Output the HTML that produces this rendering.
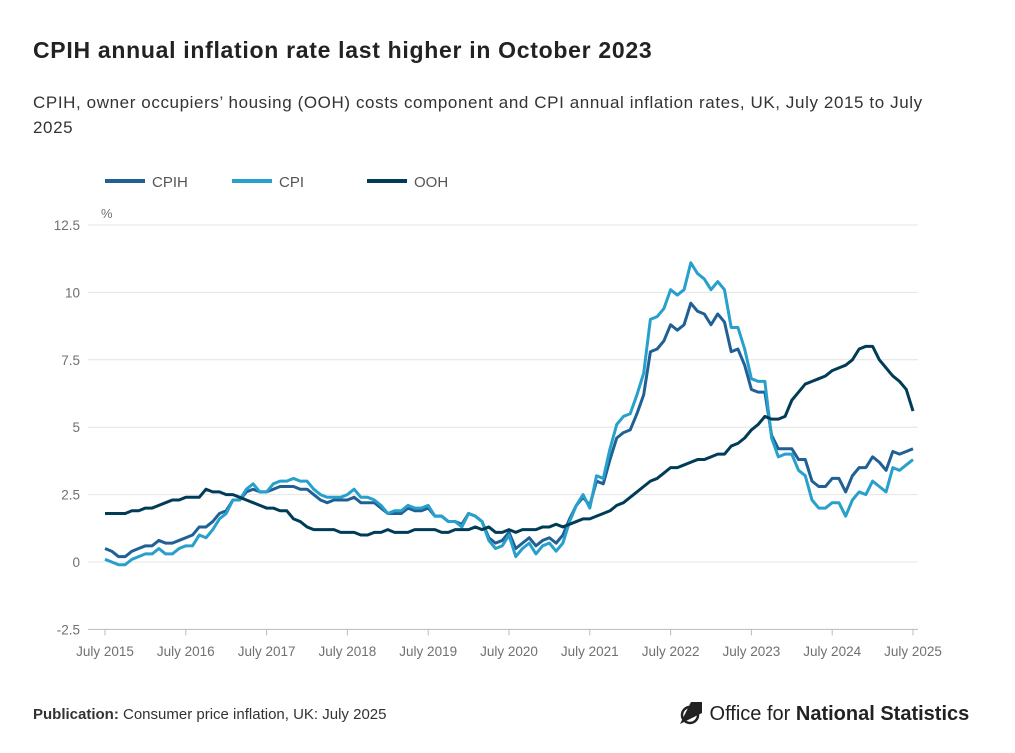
<!DOCTYPE html>
<html><head><meta charset="utf-8"><style>
body{margin:0;background:#fff;font-family:"Liberation Sans",sans-serif;color:#222;}
#wrap{position:relative;width:1015px;height:753px;overflow:hidden;}
h1{position:absolute;left:33px;top:37px;margin:0;font-size:23px;letter-spacing:0.7px;font-weight:bold;color:#222;}
.sub{position:absolute;left:33px;top:90px;width:935px;font-size:17px;letter-spacing:0.6px;line-height:25px;color:#333;}
.foot{position:absolute;left:33px;top:706px;font-size:15px;color:#333;}
.logo{position:absolute;left:678px;top:700px;font-size:20px;color:#222;}
</style></head><body>
<div id="wrap">
<h1>CPIH annual inflation rate last higher in October 2023</h1>
<div class="sub">CPIH, owner occupiers’ housing (OOH) costs component and CPI annual inflation rates, UK, July 2015 to July 2025</div>
<svg id="chart" width="1015" height="753" style="position:absolute;left:0;top:0"></svg>
<div class="foot"><b>Publication:</b> Consumer price inflation, UK: July 2025</div>
<div class="logo"><svg width="26" height="26" viewBox="0 0 26 26" style="vertical-align:-6px"><path d="M2 24 L13 2 L24 2 L24 13 Z" fill="#222"/><circle cx="12" cy="15" r="8" fill="none" stroke="#222" stroke-width="2.5"/></svg> Office for <b>National Statistics</b></div>
</div>
<script>
const cpih=[0.5,0.4,0.2,0.2,0.4,0.5,0.6,0.6,0.8,0.7,0.7,0.8,0.9,1.0,1.3,1.3,1.5,1.8,1.9,2.3,2.3,2.6,2.7,2.6,2.6,2.7,2.8,2.8,2.8,2.7,2.7,2.5,2.3,2.2,2.3,2.3,2.3,2.4,2.2,2.2,2.2,2.0,1.8,1.8,1.8,2.0,1.9,1.9,2.0,1.7,1.7,1.5,1.5,1.4,1.8,1.7,1.5,0.9,0.7,0.8,1.1,0.5,0.7,0.9,0.6,0.8,0.9,0.7,1.0,1.6,2.1,2.4,2.1,3.0,2.9,3.8,4.6,4.8,4.9,5.5,6.2,7.8,7.9,8.2,8.8,8.6,8.8,9.6,9.3,9.2,8.8,9.2,8.9,7.8,7.9,7.3,6.4,6.3,6.3,4.7,4.2,4.2,4.2,3.8,3.8,3.0,2.8,2.8,3.1,3.1,2.6,3.2,3.5,3.5,3.9,3.7,3.4,4.1,4.0,4.1,4.2];
const cpi=[0.1,0.0,-0.1,-0.1,0.1,0.2,0.3,0.3,0.5,0.3,0.3,0.5,0.6,0.6,1.0,0.9,1.2,1.6,1.8,2.3,2.3,2.7,2.9,2.6,2.6,2.9,3.0,3.0,3.1,3.0,3.0,2.7,2.5,2.4,2.4,2.4,2.5,2.7,2.4,2.4,2.3,2.1,1.8,1.9,1.9,2.1,2.0,2.0,2.1,1.7,1.7,1.5,1.5,1.3,1.8,1.7,1.5,0.8,0.5,0.6,1.0,0.2,0.5,0.7,0.3,0.6,0.7,0.4,0.7,1.5,2.1,2.5,2.0,3.2,3.1,4.2,5.1,5.4,5.5,6.2,7.0,9.0,9.1,9.4,10.1,9.9,10.1,11.1,10.7,10.5,10.1,10.4,10.1,8.7,8.7,7.9,6.8,6.7,6.7,4.6,3.9,4.0,4.0,3.4,3.2,2.3,2.0,2.0,2.2,2.2,1.7,2.3,2.6,2.5,3.0,2.8,2.6,3.5,3.4,3.6,3.8];
const ooh=[1.8,1.8,1.8,1.8,1.9,1.9,2.0,2.0,2.1,2.2,2.3,2.3,2.4,2.4,2.4,2.7,2.6,2.6,2.5,2.5,2.4,2.3,2.2,2.1,2.0,2.0,1.9,1.9,1.6,1.5,1.3,1.2,1.2,1.2,1.2,1.1,1.1,1.1,1.0,1.0,1.1,1.1,1.2,1.1,1.1,1.1,1.2,1.2,1.2,1.2,1.1,1.1,1.2,1.2,1.2,1.3,1.2,1.3,1.1,1.1,1.2,1.1,1.2,1.2,1.2,1.3,1.3,1.4,1.3,1.4,1.5,1.6,1.6,1.7,1.8,1.9,2.1,2.2,2.4,2.6,2.8,3.0,3.1,3.3,3.5,3.5,3.6,3.7,3.8,3.8,3.9,4.0,4.0,4.3,4.4,4.6,4.9,5.1,5.4,5.3,5.3,5.4,6.0,6.3,6.6,6.7,6.8,6.9,7.1,7.2,7.3,7.5,7.9,8.0,8.0,7.5,7.2,6.9,6.7,6.4,5.6];
const yTicks=[-2.5,0,2.5,5,7.5,10,12.5];
const yTickLabels=["-2.5","0","2.5","5","7.5","10","12.5"];
const xTickLabels=["July 2015","July 2016","July 2017","July 2018","July 2019","July 2020","July 2021","July 2022","July 2023","July 2024","July 2025"];
const NS="http://www.w3.org/2000/svg";
const svg=document.getElementById('chart');
const x0=105,x1=913,y0v=562,pxPer=67.4/2.5;
const X=i=>x0+(x1-x0)*i/120;
const Y=v=>y0v-v*pxPer;
function mk(t,a){const e=document.createElementNS(NS,t);for(const k in a)e.setAttribute(k,a[k]);svg.appendChild(e);return e;}
yTicks.forEach((v,i)=>{
  const g=mk('line',{x1:88,x2:918,y1:Y(v),y2:Y(v),stroke:i===0?'#bbb':'#e4e4e4','stroke-width':1});
  
  
  const t=mk('text',{x:80,y:Y(v)+5,'text-anchor':'end','font-size':13.5,fill:'#707070','font-family':'Liberation Sans'});
  t.textContent=yTickLabels[i];
  
  
});
const pct=mk('text',{x:101,y:218,'font-size':13,fill:'#707070'});pct.textContent='%';


xTickLabels.forEach((s,i)=>{
  const xx=X(i*12);
  const tk=mk('line',{x1:xx,x2:xx,y1:Y(-2.5),y2:Y(-2.5)+6,stroke:'#bbb'});
  
  
  const t=mk('text',{x:xx,y:656,'text-anchor':'middle','font-size':13.5,fill:'#707070'});
  t.textContent=s;
  
  
});
[[cpih,'#206095','cpih-line'],[cpi,'#27a0cc','cpi-line'],[ooh,'#003c57','ooh-line']].forEach(s=>{
  const p=mk('polyline',{points:s[0].map((v,i)=>X(i)+','+Y(v)).join(' '),fill:'none',stroke:s[1],'stroke-width':3,'stroke-linejoin':'round'});
  
  
});
const leg=[['CPIH','#206095',105],['CPI','#27a0cc',232],['OOH','#003c57',367]];
leg.forEach(l=>{
  const ln=mk('line',{x1:l[2],x2:l[2]+40,y1:181,y2:181,stroke:l[1],'stroke-width':4});
  
  
  const t=mk('text',{x:l[2]+47,y:187,'font-size':15,fill:'#555'});
  t.textContent=l[0];
  
  
});
</script>
</body></html>
